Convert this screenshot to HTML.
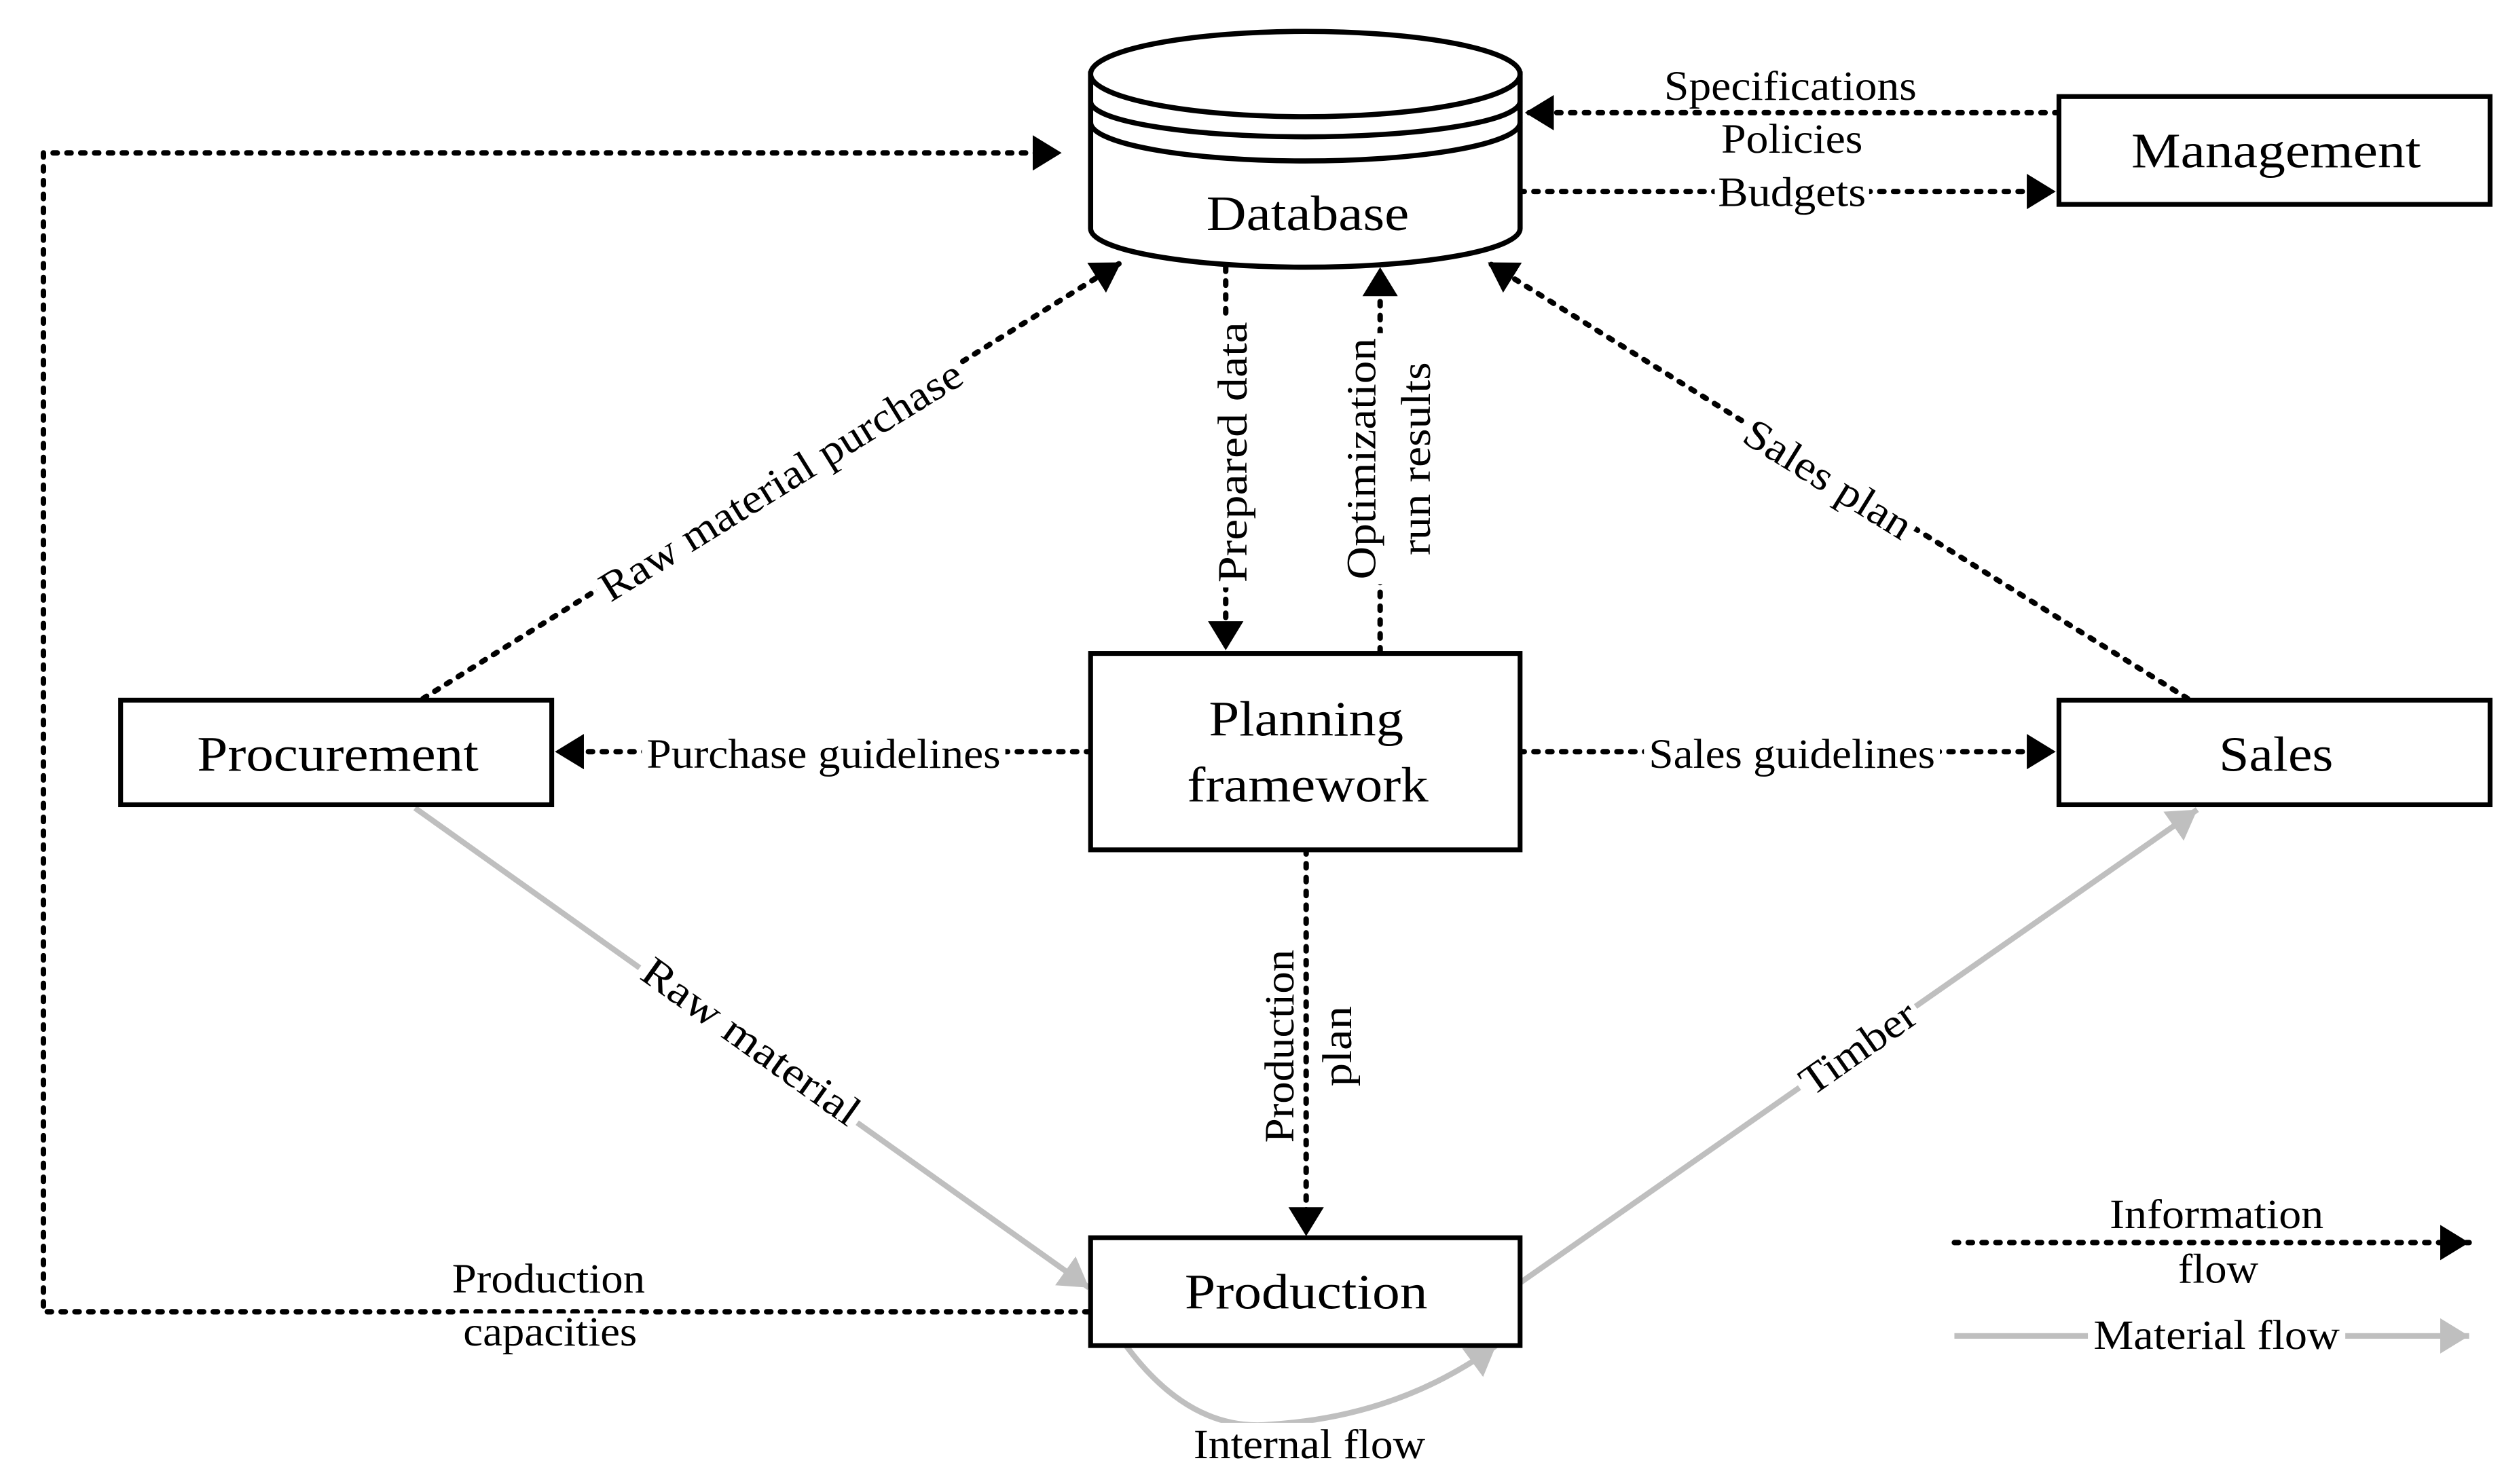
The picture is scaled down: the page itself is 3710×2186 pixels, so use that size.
<!DOCTYPE html>
<html><head><meta charset="utf-8"><style>html,body{margin:0;padding:0;background:#fff}svg{display:block}</style></head>
<body>
<svg width="3710" height="2186" viewBox="0 0 1566 922" preserveAspectRatio="none" xmlns="http://www.w3.org/2000/svg" font-family="'Liberation Serif', serif">
<defs>
<marker id="ab" viewBox="0 0 18 22" refX="18" refY="11" markerWidth="18" markerHeight="22" markerUnits="userSpaceOnUse" orient="auto"><path d="M0,0 L18,11 L0,22 Z" fill="#000"/></marker>
<marker id="ag" viewBox="0 0 18 22" refX="18" refY="11" markerWidth="18" markerHeight="22" markerUnits="userSpaceOnUse" orient="auto"><path d="M0,0 L18,11 L0,22 Z" fill="#bfbfbf"/></marker>
</defs>
<g fill="none" stroke="#000" stroke-width="3.4" stroke-dasharray="2.6 6" stroke-linecap="round">
<path d="M677,815 L27,815 L27,95 L660,95" marker-end="url(#ab)"/>
<path d="M1280,70 L948,70" marker-end="url(#ab)"/>
<path d="M945,119 L1278,119" marker-end="url(#ab)"/>
<path d="M263,434 L697,163" marker-end="url(#ab)"/>
<path d="M762,166 L762,404" marker-end="url(#ab)"/>
<path d="M858,405 L858,166" marker-end="url(#ab)"/>
<path d="M1360,434 L925,163" marker-end="url(#ab)"/>
<path d="M678,467 L345,467" marker-end="url(#ab)"/>
<path d="M945,467 L1278,467" marker-end="url(#ab)"/>
<path d="M812,528 L812,768" marker-end="url(#ab)"/>
<path d="M1215,772 L1535,772" marker-end="url(#ab)"/>
</g>
<g fill="none" stroke="#bfbfbf" stroke-width="3.5">
<path d="M258,502 L677,800" marker-end="url(#ag)"/>
<path d="M945,797 L1366,503" marker-end="url(#ag)"/>
<path d="M1215,830 L1535,830" marker-end="url(#ag)"/>
<path d="M700,836 Q740,890 790,885 Q870,880 930,836" marker-end="url(#ag)"/>
</g>
<g stroke="#000" stroke-width="3.2" fill="#fff">
<path d="M678,46 L678,142 A133.5,24 0 0 0 945,142 L945,46 Z"/>
<ellipse cx="811.5" cy="46" rx="133.5" ry="26.5"/>
<path d="M678,63 A133.5,22 0 0 0 945,63" fill="none"/>
<path d="M678,76 A133.5,24 0 0 0 945,76" fill="none"/>
</g>
<g fill="#fff" stroke="#000" stroke-width="3">
<rect x="1280" y="60" width="268" height="67"/>
<rect x="75" y="435" width="268" height="65"/>
<rect x="678" y="406" width="267" height="122"/>
<rect x="1280" y="435" width="268" height="65"/>
<rect x="678" y="769" width="267" height="67"/>
</g>
<g font-size="31" fill="#000" text-anchor="middle">
<text x="813" y="143" textLength="126" lengthAdjust="spacingAndGlyphs">Database</text>
<text x="1415" y="104" textLength="180" lengthAdjust="spacingAndGlyphs">Management</text>
<text x="210" y="479" textLength="175" lengthAdjust="spacingAndGlyphs">Procurement</text>
<text x="812" y="457" textLength="121" lengthAdjust="spacingAndGlyphs">Planning</text>
<text x="813" y="498" textLength="150" lengthAdjust="spacingAndGlyphs">framework</text>
<text x="1415" y="479" textLength="71" lengthAdjust="spacingAndGlyphs">Sales</text>
<text x="812" y="813" textLength="151" lengthAdjust="spacingAndGlyphs">Production</text>
</g>
<g font-size="26" text-anchor="middle">
<g transform="translate(1113,62)"><rect x="-81" y="-20" width="162" height="26" fill="#fff"/><text textLength="157" lengthAdjust="spacingAndGlyphs">Specifications</text></g>
<g transform="translate(1114,95)"><rect x="-46" y="-20" width="92" height="26" fill="#fff"/><text textLength="88" lengthAdjust="spacingAndGlyphs">Policies</text></g>
<g transform="translate(1114,128)"><rect x="-48" y="-20" width="96" height="26" fill="#fff"/><text textLength="92" lengthAdjust="spacingAndGlyphs">Budgets</text></g>
<g transform="translate(512,477)"><rect x="-113" y="-20" width="226" height="26" fill="#fff"/><text textLength="220" lengthAdjust="spacingAndGlyphs">Purchase guidelines</text></g>
<g transform="translate(1114,477)"><rect x="-92" y="-20" width="184" height="26" fill="#fff"/><text textLength="178" lengthAdjust="spacingAndGlyphs">Sales guidelines</text></g>
<g transform="translate(341,803)"><rect x="-62" y="-20" width="124" height="26" fill="#fff"/><text textLength="120" lengthAdjust="spacingAndGlyphs">Production</text></g>
<g transform="translate(342,836)"><rect x="-57" y="-20" width="114" height="26" fill="#fff"/><text textLength="108" lengthAdjust="spacingAndGlyphs">capacities</text></g>
<g transform="translate(814,906)"><rect x="-76" y="-22" width="152" height="30" fill="#fff"/><text textLength="144" lengthAdjust="spacingAndGlyphs">Internal flow</text></g>
<g transform="translate(1378,763)"><rect x="-70" y="-20" width="140" height="26" fill="#fff"/><text textLength="133" lengthAdjust="spacingAndGlyphs">Information</text></g>
<g transform="translate(1379,797)"><text textLength="50" lengthAdjust="spacingAndGlyphs">flow</text></g>
<g transform="translate(1378,838)"><rect x="-80" y="-20" width="160" height="26" fill="#fff"/><text textLength="153" lengthAdjust="spacingAndGlyphs">Material flow</text></g>
<g transform="translate(775,281) rotate(-90)"><rect x="-84" y="-20" width="168" height="26" fill="#fff"/><text textLength="162" lengthAdjust="spacingAndGlyphs">Prepared data</text></g>
<g transform="translate(855,285) rotate(-90)"><rect x="-78" y="-20" width="156" height="26" fill="#fff"/><text textLength="150" lengthAdjust="spacingAndGlyphs">Optimization</text></g>
<g transform="translate(889,285) rotate(-90)"><text textLength="120" lengthAdjust="spacingAndGlyphs">run results</text></g>
<g transform="translate(804,650) rotate(-90)"><rect x="-63" y="-20" width="126" height="26" fill="#fff"/><text textLength="120" lengthAdjust="spacingAndGlyphs">Production</text></g>
<g transform="translate(840,650) rotate(-90)"><text textLength="50" lengthAdjust="spacingAndGlyphs">plan</text></g>
<g transform="translate(490,306) rotate(-31.8)"><rect x="-133" y="-20" width="266" height="26" fill="#fff"/><text textLength="260" lengthAdjust="spacingAndGlyphs">Raw material purchase</text></g>
<g transform="translate(1132,305) rotate(31.8)"><rect x="-62" y="-20" width="124" height="26" fill="#fff"/><text textLength="118" lengthAdjust="spacingAndGlyphs">Sales plan</text></g>
<g transform="translate(462,654) rotate(35.5)"><rect x="-83" y="-20" width="166" height="26" fill="#fff"/><text textLength="160" lengthAdjust="spacingAndGlyphs">Raw material</text></g>
<g transform="translate(1160,658) rotate(-35)"><rect x="-44" y="-20" width="88" height="26" fill="#fff"/><text textLength="82" lengthAdjust="spacingAndGlyphs">Timber</text></g>
</g>
</svg>
</body></html>
